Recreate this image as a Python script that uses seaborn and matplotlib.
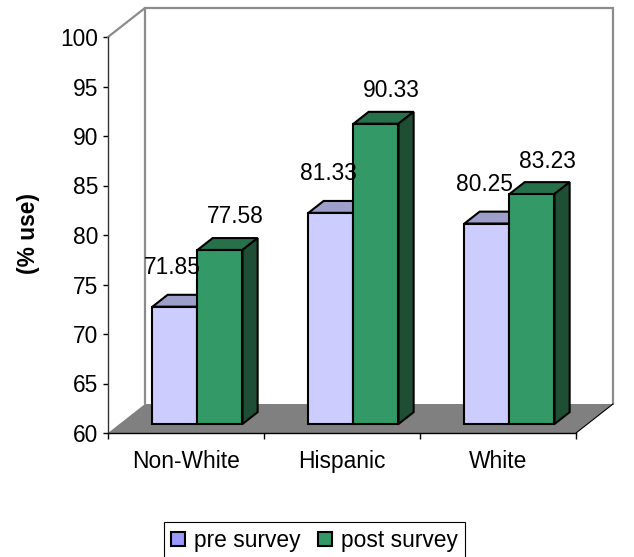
import matplotlib
matplotlib.use("Agg")
import numpy as np
import pandas as pd
import matplotlib.pyplot as plt
import seaborn as sns
from matplotlib.patches import Polygon, Patch
from matplotlib.lines import Line2D

# ---- data ----
groups = ["Non-White", "Hispanic", "White"]
series = ["pre survey", "post survey"]
pre_values = [71.85, 81.33, 80.25]
post_values = [77.58, 90.33, 83.23]
y_ticks = [60, 65, 70, 75, 80, 85, 90, 95, 100]
y_label = "(% use)"

df = pd.DataFrame({
    "group": groups * 2,
    "survey": [series[0]] * len(groups) + [series[1]] * len(groups),
    "value": pre_values + post_values,
})

sns.set_style("white")
plt.rcParams["font.family"] = ["Liberation Sans", "DejaVu Sans"]
plt.rcParams["text.color"] = "black"
plt.rcParams["axes.labelcolor"] = "black"
plt.rcParams["xtick.color"] = "black"
plt.rcParams["ytick.color"] = "black"
FS = 16.4

W, H = 634, 557
fig = plt.figure(figsize=(W / 100, H / 100), dpi=100)
ax = fig.add_axes([108 / W, 1 - 433 / H, 468 / W, 396 / H])
ax.set_xlim(-0.5, 2.5)
ax.set_ylim(60, 100)

front_col = {"pre survey": "#CCCCFF", "post survey": "#339966"}
top_col = {"pre survey": "#9E9ECA", "post survey": "#26704A"}
side_col = {"pre survey": "#8A8AB8", "post survey": "#1E4E34"}
legend_col = {"pre survey": "#9999FF", "post survey": "#339966"}

sns.barplot(data=df, x="group", y="value", hue="survey", order=groups,
            hue_order=series, palette=front_col, width=0.577, saturation=1,
            edgecolor="black", linewidth=1.5, legend=False, ax=ax, zorder=3)

# pixel -> data conversions
px_x = 3 / 468
px_y = 40 / 396
DX, DY = 37 * px_x, 29 * px_y     # full depth of the floor
F0, FD = 0.31, 0.41               # bar front plane and bar depth (fractions)
base = 60

# floor and walls
floor = Polygon([(-0.5, base), (2.5, base), (2.5 + DX, base + DY), (-0.5 + DX, base + DY)],
                closed=True, fc="#808080", ec="none", zorder=1, clip_on=False)
ax.add_patch(floor)
wall_kw = dict(color="#8C8C8C", lw=1.6, zorder=1.5, clip_on=False, solid_joinstyle="miter")
ax.add_line(Line2D([-0.5, -0.5 + DX], [100, 100 + DY], **wall_kw))
ax.add_line(Line2D([-0.5 + DX, -0.5 + DX, 2.5 + DX, 2.5 + DX],
                   [base + DY, 100 + DY, 100 + DY, base + DY], **wall_kw))
edge_kw = dict(color="black", lw=0.8, zorder=1.6, clip_on=False)
ax.add_line(Line2D([2.5, 2.5 + DX], [base, base + DY], **edge_kw))

label_off = {"pre survey": (-3, 39), "post survey": (15, 33)}

for name, cont in zip(series, ax.containers):
    for p, v in zip(cont.patches, cont.datavalues):
        w = p.get_width()
        x0 = p.get_x() + F0 * DX
        y0 = base + F0 * DY
        yt = v + F0 * DY
        p.set_x(x0)
        p.set_y(y0)
        p.set_height(v - base)
        p.set_joinstyle("miter")
        ddx, ddy = FD * DX, FD * DY
        topf = Polygon([(x0, yt), (x0 + w, yt), (x0 + w + ddx, yt + ddy), (x0 + ddx, yt + ddy)],
                       closed=True, fc=top_col[name], ec="black", lw=1.5, zorder=2,
                       joinstyle="miter", clip_on=False)
        sidef = Polygon([(x0 + w, y0), (x0 + w, yt), (x0 + w + ddx, yt + ddy), (x0 + w + ddx, y0 + ddy)],
                        closed=True, fc=side_col[name], ec="black", lw=1.5, zorder=2,
                        joinstyle="miter", clip_on=False)
        ax.add_patch(topf)
        ax.add_patch(sidef)
        ox, oy = label_off[name]
        ax.annotate(f"{v:.2f}", xy=(x0 + w / 2, yt), xytext=(ox * 0.72, oy * 0.72),
                    textcoords="offset points", ha="center", va="center",
                    fontsize=FS, color="black", zorder=5, annotation_clip=False)

# axes styling
for s in ["top", "right"]:
    ax.spines[s].set_visible(False)
ax.spines["left"].set_color("#333333")
ax.spines["left"].set_linewidth(1.0)
ax.spines["bottom"].set_color("black")
ax.spines["bottom"].set_linewidth(1.0)
ax.spines["left"].set_zorder(4)
ax.spines["bottom"].set_zorder(4)
ax.patch.set_alpha(0)

ax.set_yticks(y_ticks)
ax.set_yticklabels([str(t) for t in y_ticks])
ax.tick_params(axis="y", direction="out", length=3.6, width=1.0, color="black",
               pad=3.5, labelsize=FS, left=True, labelcolor="black")
ax.set_xticks(range(len(groups)))
ax.set_xticklabels(groups)
ax.set_xticks(np.arange(-0.5, len(groups), 1.0), minor=True)
ax.tick_params(axis="x", which="major", length=0, pad=12, labelsize=FS, labelcolor="black")
ax.tick_params(axis="x", which="minor", direction="out", length=4.3, width=1.0,
               color="black", bottom=True)
ax.set_xlabel("")
ax.set_ylabel(y_label, fontsize=FS, fontweight="bold", color="black")
ax.yaxis.set_label_coords(-0.145, 0.505)

handles = [Patch(facecolor=legend_col[s], edgecolor="black", linewidth=1.5) for s in series]
leg = fig.legend(handles, series, loc="upper center", bbox_to_anchor=(314.5 / W, 1 - 522 / H),
                 ncol=2, frameon=True, fancybox=False, edgecolor="black", framealpha=1,
                 handlelength=0.6, handleheight=0.6, handletextpad=0.4, borderaxespad=0,
                 columnspacing=0.8, borderpad=0.3, fontsize=FS, labelcolor="black")
leg.get_frame().set_linewidth(0.8)

fig.savefig("out.png", dpi=100)
